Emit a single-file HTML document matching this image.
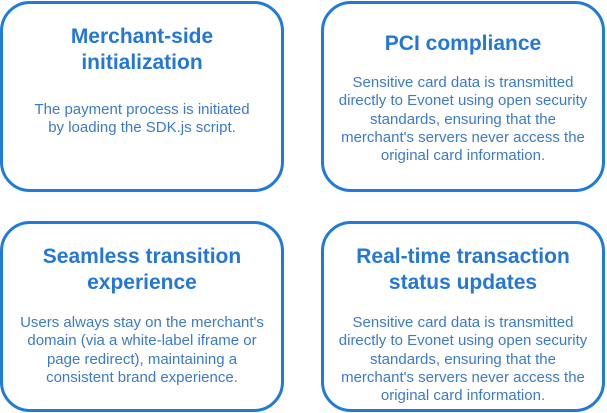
<!DOCTYPE html>
<html><head><style>
body{margin:0;width:607px;height:413px;background:#fff;position:relative;overflow:hidden;font-family:"Liberation Sans",Arial,sans-serif}
.b{position:absolute;box-sizing:border-box;border:3px solid #1f7ad9;border-radius:30px;width:284px;height:191px}
.t{position:absolute;width:284px;text-align:center;color:#2577d6;font-weight:bold;font-size:21px;line-height:26px}
.d{position:absolute;text-align:center;color:#3b7acb;font-size:15px;line-height:18.3px;white-space:nowrap}
</style></head><body>
<div class="b" style="left:0;top:1px"></div>
<div class="b" style="left:321px;top:1px"></div>
<div class="b" style="left:0;top:221px"></div>
<div class="b" style="left:321px;top:221px"></div>

<div class="t" style="left:0;top:24px">Merchant-side<br>initialization</div>
<div class="d" style="left:0;width:284px;top:101px">The payment process is initiated<br>by loading the SDK.js script.</div>

<div class="t" style="left:321px;top:31px">PCI compliance</div>
<div class="d" style="left:321px;width:284px;top:74px">Sensitive card data is transmitted<br>directly to Evonet using open security<br>standards, ensuring that the<br>merchant's servers never access the<br>original card information.</div>

<div class="t" style="left:0;top:244px">Seamless transition<br>experience</div>
<div class="d" style="left:0;width:284px;top:314px">Users always stay on the merchant's<br>domain (via a white-label iframe or<br>page redirect), maintaining a<br>consistent brand experience.</div>

<div class="t" style="left:321px;top:244px">Real-time transaction<br>status updates</div>
<div class="d" style="left:321px;width:284px;top:314px">Sensitive card data is transmitted<br>directly to Evonet using open security<br>standards, ensuring that the<br>merchant's servers never access the<br>original card information.</div>
</body></html>
